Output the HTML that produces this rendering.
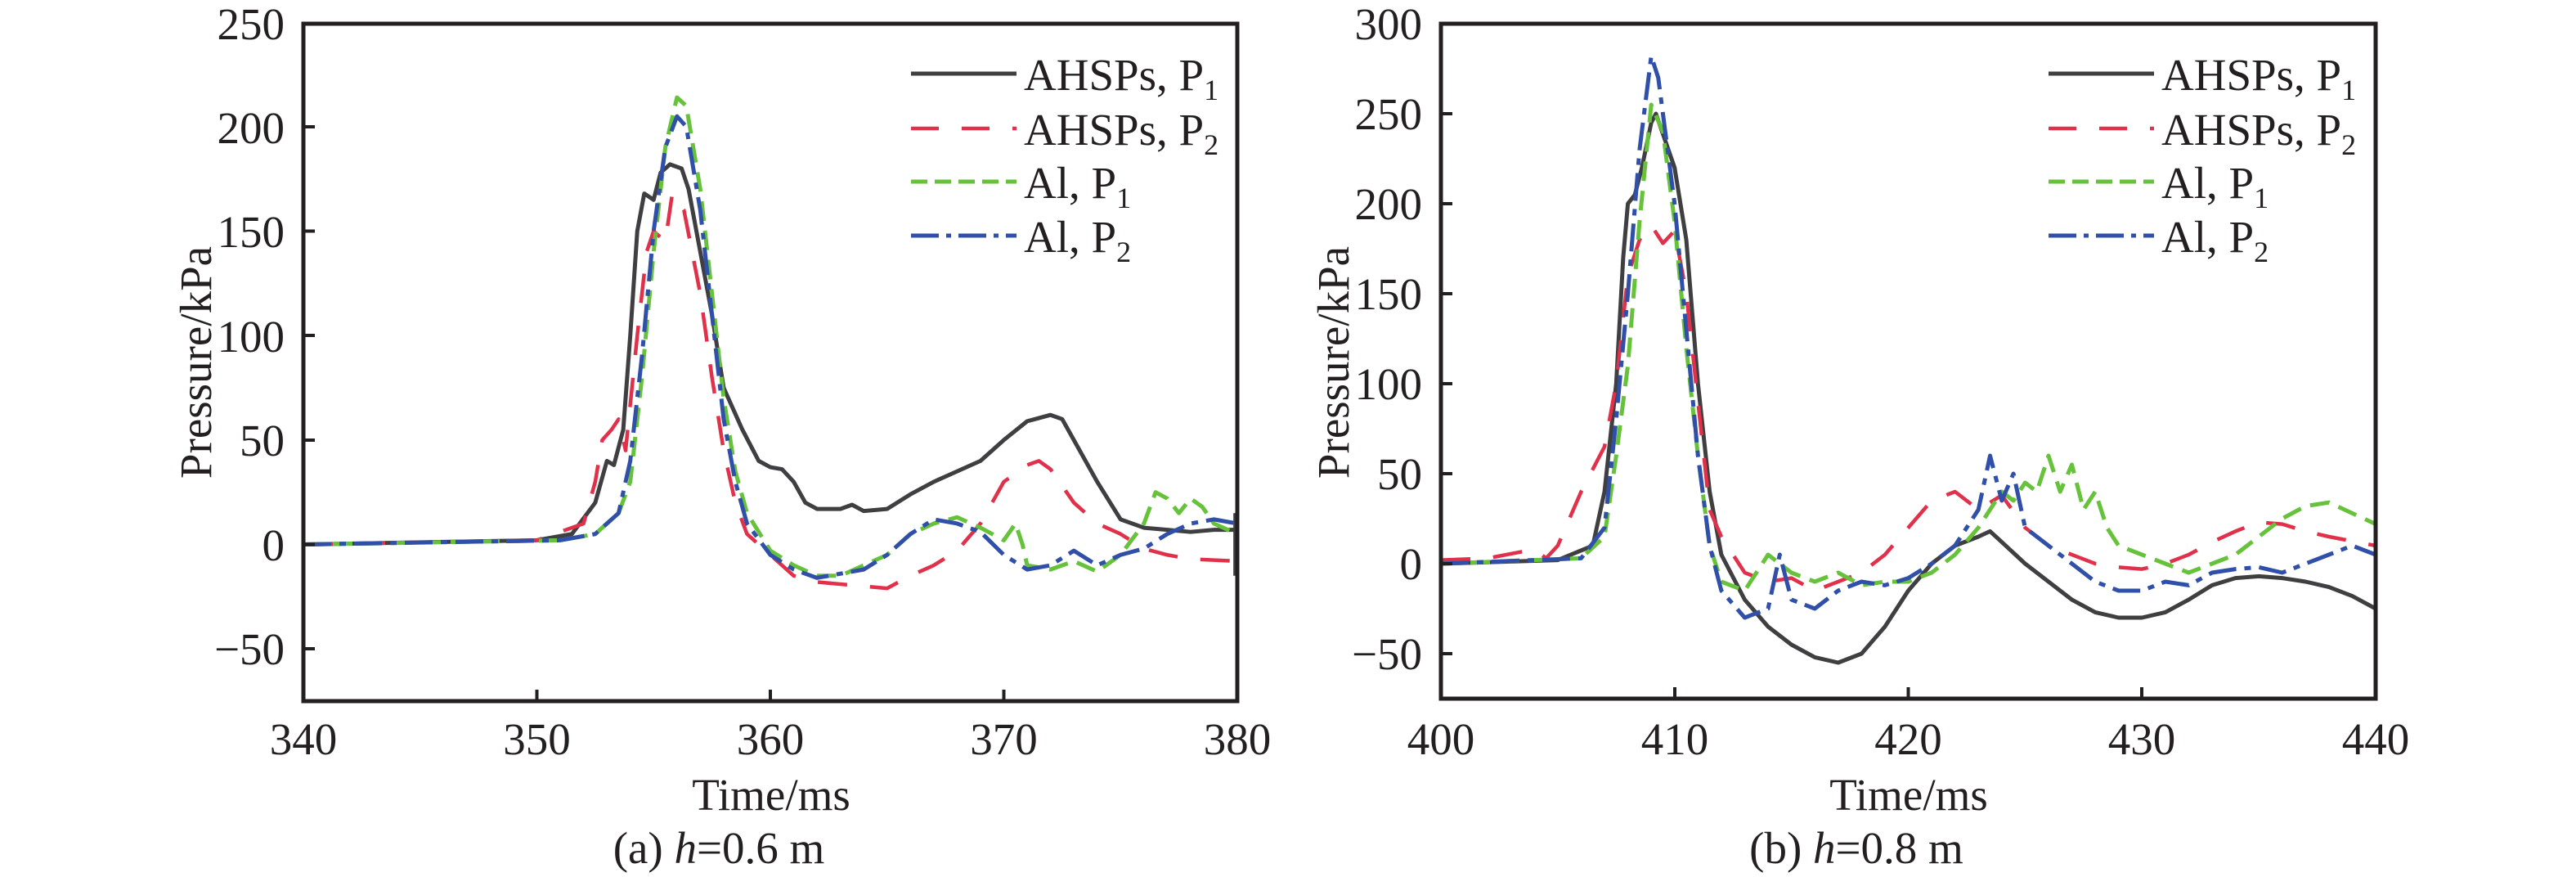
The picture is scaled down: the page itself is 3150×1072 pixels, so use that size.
<!DOCTYPE html>
<html><head><meta charset="utf-8"><style>
html,body{margin:0;padding:0;background:#fff}
svg{display:block}
text{font-family:"Liberation Serif",serif;fill:#231f20}
</style></head><body>
<svg width="3150" height="1072" viewBox="0 0 3150 1072" xmlns="http://www.w3.org/2000/svg">
<!-- LEFT PLOT -->
<g>
<g transform="matrix(28.55,0,0,-2.553,-9336,665.5)" fill="none" stroke-linejoin="round">
<polyline vector-effect="non-scaling-stroke" stroke="#3f3f42" stroke-width="5" points="340,0 350,2 351.5,5 352.5,20 353,40 353.3,38 353.7,55 354,100 354.3,150 354.6,168 355,165 355.3,178 355.7,182 356.2,180 356.5,170 357,140 357.5,110 358,75 358.8,55 359.5,40 360,37 360.5,36 361,30 361.5,20 362,17 363,17 363.5,19 364,16 365,17 366,24 367,30 368,35 369,40 370,50 371,59 372,62 372.5,60 373,50 374,30 375,12 376,8 377,7 378,6 379,7 380,7"/>
<polyline vector-effect="non-scaling-stroke" stroke="#3f3f42" stroke-width="4" points="379.9,-15 379.9,15"/>
<polyline vector-effect="non-scaling-stroke" stroke="#e0304a" stroke-width="4.5" stroke-dasharray="36 28" points="340,0 350,2 352,10 352.5,30 352.8,50 353.2,55 353.5,60 353.8,45 354.3,100 354.7,140 355,150 355.5,145 355.8,168 356.3,160 357,120 357.5,80 358,45 358.5,20 359,5 360,-5 361,-15 362,-18 363,-19 364,-20 365,-21 366,-15 367,-10 368,-3 369,10 370,30 371,38 371.5,40 372,36 373,20 374,10 375,5 376,-2 377,-5 378,-7 380,-8"/>
<polyline vector-effect="non-scaling-stroke" stroke="#66c23a" stroke-width="5" stroke-dasharray="24 12" points="340,0 351,2 352.5,5 353.5,15 354,30 354.5,80 355,140 355.5,190 356,214 356.4,210 357,170 357.5,120 358,70 358.5,35 359,15 360,-3 361,-10 362,-15 363,-15 364,-10 365,-5 366,5 367,10 368,13 369,8 370,2 370.5,10 370.8,0 371,-10 372,-12 373,-8 374,-13 375,-5 376,10 376.5,25 377,22 377.5,15 378,22 378.5,18 379,10 380,5"/>
<polyline vector-effect="non-scaling-stroke" stroke="#2f4fa8" stroke-width="5" stroke-dasharray="34 10 8 10" points="340,0 351,2 352.5,5 353.5,15 354,40 354.5,90 355,150 355.5,190 356,205 356.4,200 357,160 357.5,110 358,60 358.5,30 359,10 360,-5 361,-12 362,-16 363,-14 364,-12 365,-5 366,5 367,12 368,10 369,6 370,-5 371,-12 372,-10 373,-3 374,-10 375,-5 376,-2 377,5 378,10 379,12 380,10"/>
</g>
<rect x="371" y="29" width="1142" height="828" fill="none" stroke="#231f20" stroke-width="5"/>
<g stroke="#231f20" stroke-width="4">
<line x1="371" y1="155" x2="385" y2="155"/><line x1="371" y1="282.5" x2="385" y2="282.5"/><line x1="371" y1="410" x2="385" y2="410"/><line x1="371" y1="538" x2="385" y2="538"/><line x1="371" y1="665.5" x2="385" y2="665.5"/><line x1="371" y1="793" x2="385" y2="793"/>
<line x1="656.5" y1="857" x2="656.5" y2="843"/><line x1="942" y1="857" x2="942" y2="843"/><line x1="1227.5" y1="857" x2="1227.5" y2="843"/>
</g>
<g font-size="55" text-anchor="end">
<text x="348" y="48">250</text><text x="348" y="175">200</text><text x="348" y="302">150</text><text x="348" y="430">100</text><text x="348" y="557">50</text><text x="348" y="685">0</text><text x="348" y="812">−50</text>
</g>
<g font-size="55" text-anchor="middle">
<text x="371" y="922">340</text><text x="656.5" y="922">350</text><text x="942" y="922">360</text><text x="1227.5" y="922">370</text><text x="1513" y="922">380</text>
<text x="943" y="990">Time/ms</text>
<text x="879" y="1055">(a) <tspan font-style="italic">h</tspan>=0.6 m</text>
<text transform="translate(258,443) rotate(-90)">Pressure/kPa</text>
</g>
<g font-size="55">
<line x1="1114" y1="90" x2="1243" y2="90" stroke="#3f3f42" stroke-width="5"/>
<line x1="1114" y1="157" x2="1243" y2="157" stroke="#e0304a" stroke-width="4.5" stroke-dasharray="34 28"/>
<line x1="1114" y1="222" x2="1243" y2="222" stroke="#66c23a" stroke-width="5" stroke-dasharray="20 9"/>
<line x1="1114" y1="288" x2="1243" y2="288" stroke="#2f4fa8" stroke-width="5" stroke-dasharray="34 9 6 9"/>
<text x="1252" y="110">AHSPs, P<tspan font-size="36" dy="12">1</tspan></text>
<text x="1252" y="177">AHSPs, P<tspan font-size="36" dy="12">2</tspan></text>
<text x="1252" y="242">Al, P<tspan font-size="36" dy="12">1</tspan></text>
<text x="1252" y="308">Al, P<tspan font-size="36" dy="12">2</tspan></text>
</g>
</g>
<!-- RIGHT PLOT -->
<g>
<g transform="matrix(28.575,0,0,-2.2,-9668,689)" fill="none" stroke-linejoin="round">
<polyline vector-effect="non-scaling-stroke" stroke="#3f3f42" stroke-width="5" points="400,0 405,2 406.5,10 407,40 407.5,100 407.8,170 408,200 408.3,205 408.6,220 409,245 409.2,250 409.6,235 410,220 410.5,180 411,100 411.5,40 412,5 413,-20 414,-35 415,-45 416,-52 417,-55 418,-50 419,-35 420,-15 421,0 422,10 423,15 423.5,18 424,12 425,0 426,-10 427,-20 428,-27 429,-30 430,-30 431,-27 432,-20 433,-12 434,-8 435,-7 436,-8 437,-10 438,-13 439,-18 440,-25"/>
<polyline vector-effect="non-scaling-stroke" stroke="#e0304a" stroke-width="4.5" stroke-dasharray="36 28" points="400,2 402,3 404,8 404.5,3 405,10 406,40 407,65 407.5,100 408,160 408.5,180 409,188 409.5,178 410,185 410.5,150 411,90 411.5,30 412,15 413,-5 414,-10 415,-8 416,-15 417,-10 418,-5 419,5 420,20 421,35 422,40 423,30 424,38 425,20 426,10 427,5 428,0 429,-2 430,-3 431,0 432,5 433,12 434,18 435,23 436,22 437,18 438,15 440,10"/>
<polyline vector-effect="non-scaling-stroke" stroke="#66c23a" stroke-width="5" stroke-dasharray="24 12" points="400,0 406,3 407,15 407.5,60 408,110 408.5,190 409,255 409.5,240 410,190 410.5,120 411,60 411.5,10 412,-10 413,-15 414,5 415,-5 416,-10 417,-5 418,-12 419,-10 420,-10 421,-5 422,5 423,20 424,40 424.5,35 425,45 425.5,40 426,60 426.5,40 427,55 427.5,30 428,40 428.5,20 429,10 430,5 431,0 432,-5 433,0 434,5 435,15 436,25 437,32 438,34 439,28 440,22"/>
<polyline vector-effect="non-scaling-stroke" stroke="#2f4fa8" stroke-width="5" stroke-dasharray="34 10 8 10" points="400,0 406,3 407,20 407.5,80 408,150 408.5,230 409,282 409.3,270 410,200 410.5,130 411,60 411.5,10 412,-15 413,-30 414,-25 414.5,5 415,-20 416,-25 417,-15 418,-10 419,-12 420,-8 421,0 422,10 423,30 423.5,60 424,35 424.5,50 425,20 426,10 427,0 428,-10 429,-15 430,-15 431,-10 432,-12 433,-5 434,-3 435,-2 436,-5 437,0 438,5 439,10 440,5"/>
</g>
<rect x="1762" y="29" width="1143" height="825" fill="none" stroke="#231f20" stroke-width="5"/>
<g stroke="#231f20" stroke-width="4">
<line x1="1762" y1="139" x2="1776" y2="139"/><line x1="1762" y1="249" x2="1776" y2="249"/><line x1="1762" y1="359" x2="1776" y2="359"/><line x1="1762" y1="469" x2="1776" y2="469"/><line x1="1762" y1="579" x2="1776" y2="579"/><line x1="1762" y1="689" x2="1776" y2="689"/><line x1="1762" y1="799" x2="1776" y2="799"/>
<line x1="2048" y1="854" x2="2048" y2="840"/><line x1="2333.5" y1="854" x2="2333.5" y2="840"/><line x1="2619" y1="854" x2="2619" y2="840"/>
</g>
<g font-size="55" text-anchor="end">
<text x="1739" y="48">300</text><text x="1739" y="158">250</text><text x="1739" y="268">200</text><text x="1739" y="378">150</text><text x="1739" y="488">100</text><text x="1739" y="598">50</text><text x="1739" y="708">0</text><text x="1739" y="818">−50</text>
</g>
<g font-size="55" text-anchor="middle">
<text x="1762" y="922">400</text><text x="2048" y="922">410</text><text x="2333.5" y="922">420</text><text x="2619" y="922">430</text><text x="2905" y="922">440</text>
<text x="2334" y="990">Time/ms</text>
<text x="2270" y="1055">(b) <tspan font-style="italic">h</tspan>=0.8 m</text>
<text transform="translate(1649,443) rotate(-90)">Pressure/kPa</text>
</g>
<g font-size="55">
<line x1="2505" y1="90" x2="2634" y2="90" stroke="#3f3f42" stroke-width="5"/>
<line x1="2505" y1="157" x2="2634" y2="157" stroke="#e0304a" stroke-width="4.5" stroke-dasharray="34 28"/>
<line x1="2505" y1="222" x2="2634" y2="222" stroke="#66c23a" stroke-width="5" stroke-dasharray="20 9"/>
<line x1="2505" y1="288" x2="2634" y2="288" stroke="#2f4fa8" stroke-width="5" stroke-dasharray="34 9 6 9"/>
<text x="2643" y="110">AHSPs, P<tspan font-size="36" dy="12">1</tspan></text>
<text x="2643" y="177">AHSPs, P<tspan font-size="36" dy="12">2</tspan></text>
<text x="2643" y="242">Al, P<tspan font-size="36" dy="12">1</tspan></text>
<text x="2643" y="308">Al, P<tspan font-size="36" dy="12">2</tspan></text>
</g>
</g>
</svg>
</body></html>
